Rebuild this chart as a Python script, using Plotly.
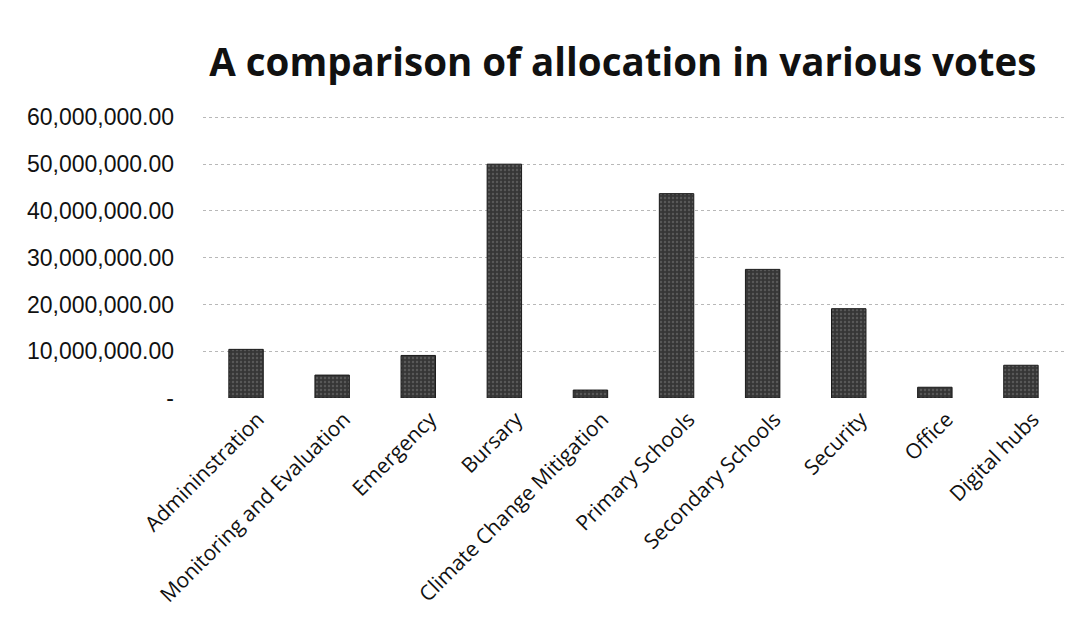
import plotly.graph_objects as go

categories = ["Admininstration", "Monitoring and Evaluation", "Emergency", "Bursary",
              "Climate Change Mitigation", "Primary Schools", "Secondary Schools",
              "Security", "Office", "Digital hubs"]
allocations = [10400000, 4900000, 9100000, 50000000, 1700000, 43700000, 27500000,
               19100000, 2300000, 7000000]
tick_values = [0, 10000000, 20000000, 30000000, 40000000, 50000000, 60000000]
tick_labels = ["-", "10,000,000.00", "20,000,000.00", "30,000,000.00",
               "40,000,000.00", "50,000,000.00", "60,000,000.00"]

fig = go.Figure(go.Bar(
    x=categories, y=allocations,
    marker=dict(color="#363636", line=dict(color="#1a1a1a", width=1),
                pattern=dict(shape=".", fgcolor="#7a7a7a", size=4, solidity=0.3)),
))

fig.update_layout(
    width=1085, height=638,
    paper_bgcolor="white", plot_bgcolor="white",
    margin=dict(l=203, r=21, t=116, b=240),
    bargap=0.6,
    showlegend=False,
    title=dict(text="<b>A comparison of allocation in various votes</b>",
               x=0.574, xanchor="center", y=0.902, yanchor="middle",
               font=dict(family="Open Sans", size=38.5, color="#111")),
    font=dict(family="Open Sans", color="#111"),
)
fig.update_yaxes(range=[0, 60300000], tickvals=tick_values, ticktext=tick_labels,
                 showgrid=True, gridcolor="#b8b8b8", griddash="dot", gridwidth=1,
                 zeroline=False, showline=False, ticks="", ticklabelstandoff=28,
                 tickfont=dict(family="Liberation Sans", size=23, color="#111"))
fig.update_xaxes(tickangle=-45, showline=False, ticks="", ticklabelshift=12,
                 ticklabelstandoff=4,
                 tickfont=dict(family="Open Sans", size=21, color="#111"))

fig.write_html("out.html")
